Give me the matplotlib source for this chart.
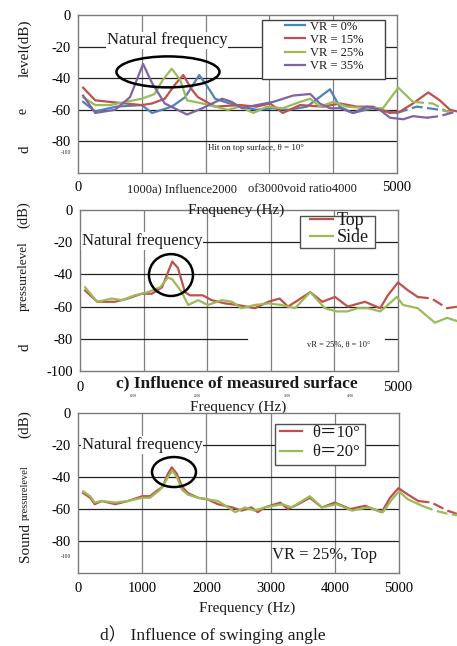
import numpy as np
import matplotlib
matplotlib.use('Agg')
import matplotlib.pyplot as plt
from matplotlib.patches import Ellipse, Rectangle

# ---------------- data ----------------
FREQ_TICKS = [0, 1000, 2000, 3000, 4000, 5000]
LEVEL_TICKS = [0, -20, -40, -60, -80, -100]

# a) influence of void ratio
a_labels = ["VR = 0%", "VR = 15%", "VR = 25%", "VR = 35%"]
a_f_vr0 = [80, 270, 600, 1000, 1160, 1470, 1680, 1900, 2040, 2150, 2300, 2540, 2800, 3060, 3300, 3590, 3950, 4100, 4310, 4620, 4840, 5000, 5310, 5670, 5940]
a_v_vr0 = [-55, -61, -58, -57, -62, -58, -52, -38, -46, -53, -55, -58, -60, -59, -60, -58, -47, -58, -62, -59, -61, -62, -58, -60, -62]
a_f_vr15 = [80, 270, 500, 740, 1000, 1160, 1360, 1520, 1650, 1780, 1880, 2150, 2540, 2800, 3010, 3210, 3480, 3840, 4110, 4370, 4620, 4890, 5050, 5250, 5490, 5670, 5830, 5940]
a_v_vr15 = [-46, -54, -55, -56, -57, -56, -53, -44, -38, -47, -52, -58, -57, -58, -56, -62, -57, -58, -56, -58, -58, -62, -61, -56, -49, -54, -60, -61]
a_f_vr25 = [80, 270, 500, 740, 1000, 1200, 1330, 1470, 1600, 1710, 1950, 2150, 2350, 2540, 2750, 2960, 3210, 3480, 3640, 3790, 4000, 4210, 4530, 4780, 5020, 5250, 5560, 5780, 5940]
a_v_vr25 = [-52, -57, -57, -55, -53, -50, -41, -34, -41, -54, -56, -58, -60, -58, -62, -58, -59, -55, -53, -58, -55, -58, -59, -59, -46, -55, -56, -61, -62]
a_f_vr35 = [80, 270, 580, 815, 1020, 1160, 1360, 1710, 1950, 2260, 2410, 2570, 2800, 3060, 3370, 3640, 3790, 3950, 4110, 4310, 4530, 4730, 4890, 5100, 5250, 5470, 5670, 5940]
a_v_vr35 = [-51, -62, -60, -52, -31, -43, -56, -63, -59, -53, -55, -59, -57, -55, -51, -50, -56, -59, -59, -62, -58, -60, -65, -66, -64, -65, -64, -61]

# c) influence of measured surface
c_labels = ["Top", "Side"]
c_f_top = [80, 270, 550, 750, 970, 1130, 1290, 1370, 1450, 1540, 1650, 1730, 1930, 2070, 2280, 2480, 2750, 2960, 3140, 3270, 3430, 3620, 3810, 4010, 4210, 4480, 4720, 4840, 5000, 5160, 5310, 5530, 5770, 5940]
c_v_top = [-50, -57, -57, -55, -52, -52, -48, -40, -32, -36, -51, -53, -53, -56, -58, -59, -61, -57, -55, -60, -56, -51, -57, -54, -60, -57, -61, -53, -45, -50, -54, -55, -61, -60]
c_f_side = [80, 270, 500, 660, 860, 1070, 1260, 1380, 1450, 1600, 1700, 1860, 2010, 2230, 2390, 2540, 2750, 2960, 3170, 3380, 3620, 3850, 4040, 4200, 4370, 4530, 4720, 4840, 4980, 5080, 5310, 5580, 5770, 5930]
c_v_side = [-48, -57, -55, -56, -53, -51, -48, -42, -43, -51, -59, -56, -59, -56, -57, -61, -59, -58, -59, -61, -51, -61, -63, -63, -61, -61, -63, -59, -54, -59, -61, -70, -67, -69]

# d) influence of swinging angle
d_labels = ["θ＝10°", "θ＝20°"]
d_f_10 = [80, 190, 260, 370, 580, 780, 1000, 1120, 1250, 1320, 1400, 1460, 1540, 1620, 1710, 1870, 2020, 2180, 2400, 2550, 2700, 2800, 2910, 3150, 3270, 3430, 3610, 3800, 4000, 4240, 4470, 4730, 4860, 4990, 5140, 5300, 5510, 5750, 5900]
d_v_10 = [-50, -53, -57, -55, -57, -55, -52, -52, -48, -46, -38, -34, -38, -46, -50, -53, -54, -57, -59, -61, -59, -62, -59, -56, -60, -57, -53, -59, -56, -60, -58, -62, -53, -47, -51, -55, -56, -61, -63]
d_f_20 = [80, 190, 260, 370, 580, 780, 1000, 1120, 1250, 1320, 1400, 1470, 1540, 1620, 1710, 1870, 2020, 2180, 2300, 2450, 2600, 2750, 2910, 3180, 3330, 3610, 3800, 4030, 4270, 4520, 4750, 4890, 5000, 5140, 5360, 5560, 5760, 5930]
d_v_20 = [-49, -52, -56, -55, -56, -55, -53, -53, -49, -46, -40, -36, -40, -48, -51, -53, -54, -55, -58, -62, -59, -61, -59, -57, -59, -52, -59, -57, -61, -59, -62, -54, -49, -54, -58, -61, -63, -64]

# ---------------- style ----------------
BLUE, RED, GREEN, PURPLE = '#4F81BD', '#C0504D', '#9BBB59', '#8064A2'
SERIF = ['Liberation Serif', 'Noto Sans CJK SC', 'DejaVu Sans']
plt.rcParams['font.family'] = SERIF
plt.rcParams['text.color'] = '#1a1a1a'

W, H = 457, 646
fig = plt.figure(figsize=(W / 100, H / 100), dpi=100)


def P(x, y):
    return x / W, 1 - y / H


def ax_rect(l, t, r, b):
    return [l / W, 1 - b / H, (r - l) / W, (b - t) / H]


def T(x, y, s, size=11, **kw):
    fig.text(*P(x, y), s, fontsize=size, **kw)


ax1 = fig.add_axes(ax_rect(78, 15, 397, 173))
ax2 = fig.add_axes(ax_rect(80, 210, 398, 371))
ax3 = fig.add_axes(ax_rect(78, 413, 399, 573))


def style(ax, ylabels, xlabels, xpad, hgrid_segments=None):
    ax.set_xlim(0, 5000)
    ax.set_ylim(-100, 0)
    ax.set_xticks(FREQ_TICKS)
    ax.set_xticklabels(xlabels)
    ax.set_yticks(LEVEL_TICKS)
    ax.set_yticklabels(ylabels)
    ax.tick_params(axis='y', length=0, labelsize=10.5, pad=5)
    ax.tick_params(axis='x', length=0, labelsize=10.5, pad=xpad)
    for s in ax.spines.values():
        s.set_color('#7a7a7a')
        s.set_linewidth(1.0)
    for f in FREQ_TICKS[1:-1]:
        ax.axvline(f, color='#808080', lw=0.9, zorder=0.5)
    for v in LEVEL_TICKS[1:-1]:
        segs = (hgrid_segments or {}).get(v, [(0, 1)])
        for a, b in segs:
            ax.axhline(v, xmin=a, xmax=b, color='#222222', lw=0.9, zorder=0.6)


def draw(ax, f, v, color, dash_from=None):
    f = np.asarray(f)
    v = np.asarray(v)
    kw = dict(color=color, lw=1.6, clip_on=False, zorder=3, solid_joinstyle='round')
    if dash_from is None:
        h, = ax.plot(f, v, **kw)
    else:
        i = int(np.searchsorted(f, dash_from))
        h, = ax.plot(f[:i + 1], v[:i + 1], **kw)
        ax.plot(f[i:], v[i:], linestyle=(0, (5, 2)), **kw)
    return h


# ---------- panel a ----------
style(ax1, ['0', '-20', '-40', '-60', '-80', ''], ['0', '', '', '', '', '5000'], 5.5)
h1 = [draw(ax1, a_f_vr0, a_v_vr0, BLUE, 5000),
      draw(ax1, a_f_vr15, a_v_vr15, RED),
      draw(ax1, a_f_vr25, a_v_vr25, GREEN, 5250),
      draw(ax1, a_f_vr35, a_v_vr35, PURPLE, 5470)]
ax1.add_patch(Rectangle((0.577, 0.595), 0.385, 0.373, transform=ax1.transAxes,
                        facecolor='white', edgecolor='#404040', lw=1.0, zorder=4))
leg = ax1.legend(h1, a_labels, loc='upper left', bbox_to_anchor=(0.649, 0.965),
                 frameon=False, fontsize=9, handlelength=1.6, handletextpad=0.4,
                 labelspacing=0.1, borderpad=0, borderaxespad=0)
leg.set_zorder(5)
ax1.add_patch(Ellipse((1410, -36), 1615, 19.6, fill=False, ec='black', lw=1.8, zorder=6, clip_on=False))
ax1.text(1400, -16, 'Natural frequency', fontsize=12, ha='center', va='center', zorder=2,
         bbox=dict(facecolor='white', edgecolor='none', pad=0.5))

T(25, 48, 'level(dB)', 11, rotation=90, ha='center', va='center')
T(23, 111, 'e', 10, rotation=90, ha='center', va='center')
T(25, 149, 'd', 11, rotation=90, ha='center', va='center')
T(71, 152, '-100', 4, ha='right', va='center')
T(208, 148, 'Hit on top surface, θ = 10°', 6.5, ha='left', va='center')
T(127, 189, '1000a) Influence2000', 9, ha='left', va='center')
T(248, 189, 'of3000void ratio4000', 9, ha='left', va='center')

# ---------- panel c ----------
style(ax2, ['0', '-20', '-40', '-60', '-80', '-100'], ['0', '', '', '', '', '5000'], 7,
      hgrid_segments={-20: [(0.377, 1)], -80: [(0, 0.525), (0.96, 1)]})
h2 = [draw(ax2, c_f_top, c_v_top, RED, 5310),
      draw(ax2, c_f_side, c_v_side, GREEN)]
ax2.add_patch(Rectangle((0.692, 0.764), 0.236, 0.199, transform=ax2.transAxes,
                        facecolor='white', edgecolor='#505050', lw=1.0, zorder=4))
leg2 = ax2.legend(h2, c_labels, loc='upper left', bbox_to_anchor=(0.723, 0.985),
                  frameon=False, fontsize=13, handlelength=1.3, handletextpad=0.2,
                  labelspacing=0.0, borderpad=0, borderaxespad=0)
leg2.set_zorder(5)
ax2.add_patch(Ellipse((1430, -40.4), 692, 26, fill=False, ec='black', lw=1.8, zorder=6))
T(236, 210, 'Frequency (Hz)', 11, ha='center', va='center')
T(82, 241, 'Natural frequency', 12, ha='left', va='center',
  bbox=dict(facecolor='white', edgecolor='none', pad=0.5))
T(24, 276, 'pressurelevel', 9.5, rotation=90, ha='center', va='center')
T(24, 215, '(dB)', 10.5, rotation=90, ha='center', va='center')
T(25, 347, 'd', 11, rotation=90, ha='center', va='center')
T(307, 345, 'vR = 25%, θ = 10°', 6, ha='left', va='center')
for xx, s in zip([133, 197, 287, 350], ['1000', '2000', '3000', '4000']):
    T(xx, 396, s, 2.5, ha='center', va='center')
T(237, 383, 'c) Influence of measured surface', 12.5, ha='center', va='center', fontweight='bold')
T(238, 407, 'Frequency (Hz)', 11, ha='center', va='center', zorder=-1)

# ---------- panel d ----------
style(ax3, ['0', '-20', '-40', '-60', '-80', ''], ['0', '1000', '2000', '3000', '4000', '5000'], 6.5)
h3 = [draw(ax3, d_f_10, d_v_10, RED, 5300),
      draw(ax3, d_f_20, d_v_20, GREEN, 5360)]
ax3.add_patch(Rectangle((0.614, 0.675), 0.28, 0.256, transform=ax3.transAxes,
                        facecolor='white', edgecolor='#505050', lw=1.0, zorder=4))
leg3 = ax3.legend(h3, d_labels, loc='upper left', bbox_to_anchor=(0.629, 0.925),
                  frameon=False, fontsize=12, handlelength=1.3, handletextpad=0.65,
                  labelspacing=0.2, borderpad=0, borderaxespad=0)
leg3.set_zorder(5)
ax3.add_patch(Ellipse((1495, -36.9), 685, 18.75, fill=False, ec='black', lw=1.8, zorder=6))
T(82, 445, 'Natural frequency', 12, ha='left', va='center',
  bbox=dict(facecolor='white', edgecolor='none', pad=0.5))
T(25, 424, '(dB)', 11, rotation=90, ha='center', va='center')
T(25, 493, 'pressurelevel', 7.5, rotation=90, ha='center', va='center')
T(25, 542, 'Sound', 11, rotation=90, ha='center', va='center')
T(71, 556, '-100', 4, ha='right', va='center')
T(272, 555, 'VR = 25%, Top', 12, ha='left', va='center')
T(247, 608, 'Frequency (Hz)', 11, ha='center', va='center')
T(100, 635, 'd） Influence of swinging angle', 12.5, ha='left', va='center')

fig.savefig('out.png', dpi=100)
